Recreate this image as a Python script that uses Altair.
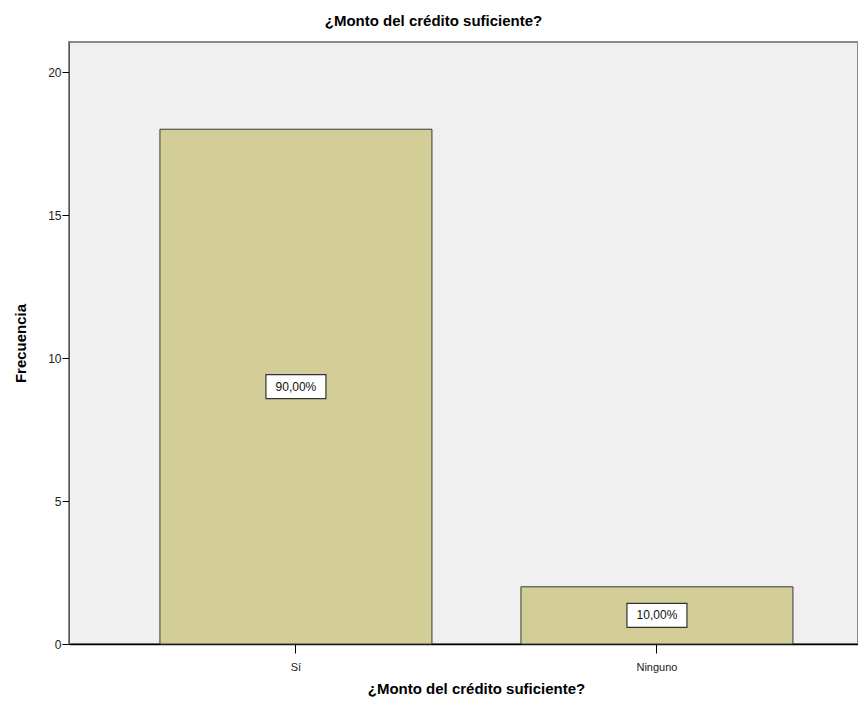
import altair as alt
import pandas as pd

categorias = ["Sí", "Ninguno"]
frecuencia = [18, 2]
porcentajes = ["90,00%", "10,00%"]

df = pd.DataFrame({"cat": categorias, "frec": frecuencia, "pct": porcentajes})

FONT = "Liberation Sans"
x_enc = alt.X(
    "cat:N",
    sort=categorias,
    scale=alt.Scale(paddingInner=0.2465, paddingOuter=0.216, align=0.583),
    axis=alt.Axis(
        title="¿Monto del crédito suficiente?",
        labelAngle=0,
        labelFontSize=11,
        labelColor="#222222",
        labelPadding=8,
        tickSize=9,
        tickColor="#000000",
        domainColor="#000000",
        domainWidth=1.5,
        titleFontSize=15,
        titleFontWeight="bold",
        titleColor="#000000",
        titlePadding=9,
        titleX=407,
        labelFont=FONT,
        titleFont=FONT,
    ),
)
y_scale = alt.Scale(domain=[0, 21.05], nice=False)

bars = alt.Chart(df).mark_bar(
    color="#D3CE97", stroke="#3a3a3a", strokeWidth=1
).encode(
    x=x_enc,
    y=alt.Y(
        "frec:Q",
        scale=y_scale,
        axis=alt.Axis(
            title="Frecuencia",
            values=[0, 5, 10, 15, 20],
            grid=False,
            tickSize=7,
            tickColor="#000000",
            domainColor="#555555",
            labelFontSize=12,
            labelColor="#222222",
            labelPadding=1,
            titleFontSize=15,
            titleFontWeight="bold",
            titleColor="#000000",
            titlePadding=19,
            labelFont=FONT,
            titleFont=FONT,
        ),
    ),
)

base = alt.Chart(df).transform_calculate(mid="datum.frec / 2")

boxes = base.mark_point(
    shape="M-1,-0.4L1,-0.4L1,0.4L-1,0.4Z",
    size=3600,
    filled=True,
    fill="#FFFFFF",
    stroke="#333333",
    strokeWidth=1.2,
    opacity=1,
).encode(x=alt.X("cat:N", sort=categorias), y=alt.Y("mid:Q", scale=y_scale))

texts = base.mark_text(font=FONT, fontSize=12, color="#111111").encode(
    x=alt.X("cat:N", sort=categorias), y=alt.Y("mid:Q", scale=y_scale), text="pct:N"
)

chart = (
    alt.layer(bars, boxes, texts)
    .properties(
        width=789,
        height=602,
        background="#FFFFFF",
        title=alt.TitleParams(
            "¿Monto del crédito suficiente?",
            font=FONT,
            fontSize=15,
            fontWeight="bold",
            color="#000000",
            dx=-30,
            offset=13,
        ),
        autosize=alt.AutoSizeParams(type="none"),
        padding={"left": 61, "top": 34, "right": 0, "bottom": 55},
    )
    .configure_view(fill="#F0F0F0", stroke="#8a8a8a", strokeWidth=2)
)

chart.save("out.html", embed_options={"renderer": "svg", "actions": False})
